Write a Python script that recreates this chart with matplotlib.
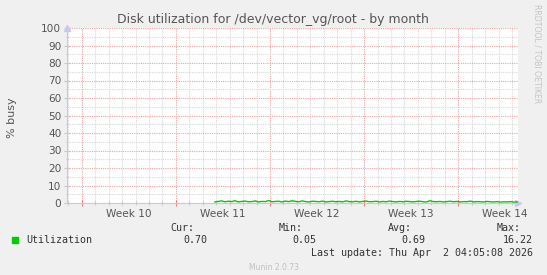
"""Munin disk utilization graph - by month."""
import numpy as np
import matplotlib.pyplot as plt
from matplotlib.ticker import MultipleLocator

# time axis in days from the start of week 10
week_starts = [0, 7, 14, 21, 28]
week_labels = ["Week 10", "Week 11", "Week 12", "Week 13", "Week 14"]
x_start, x_end = -1.1, 32.45

# utilization (% busy), 6 hour samples from day 9.9
util_start = 9.9
util_step = 0.25
util = [0.6, 0.9, 1.2, 0.7, 1.0, 0.8, 1.3, 0.6, 0.9, 1.1, 0.7, 0.8,
        1.2, 0.6, 0.9, 0.8, 1.4, 0.7, 0.9, 1.0, 0.6, 1.1, 0.8, 1.3,
        0.9, 0.7, 1.2, 0.8, 0.6, 1.0, 0.9, 0.7, 1.1, 0.6, 0.8, 1.0,
        0.7, 0.9, 0.6, 1.2, 0.8, 0.7, 1.0, 0.6, 0.9, 1.1, 0.7, 0.8,
        1.0, 0.6, 0.9, 0.7, 1.1, 0.8, 0.6, 0.9, 0.7, 1.0, 0.8, 0.6,
        0.9, 1.0, 0.7, 0.6, 1.3, 0.8, 0.7, 0.9, 0.6, 0.8, 1.0, 0.7,
        0.9, 0.6, 0.8, 0.7, 1.1, 0.6, 0.8, 0.7, 0.6, 0.9, 0.7, 0.6,
        0.8, 0.5, 0.7, 0.6, 0.8, 0.5, 0.6, 0.7, 0.6, 0.5]
util_t = util_start + util_step * np.arange(len(util))

stats_heads = ["Cur:", "Min:", "Avg:", "Max:"]
stats_vals = ["0.70", "0.05", "0.69", "16.22"]

W, H = 547, 275
fig = plt.figure(figsize=(W / 100, H / 100), dpi=100, facecolor="#f0f0f0")
ax = fig.add_axes([67 / W, (H - 203) / H, (518 - 67) / W, (203 - 28) / H])
ax.set_facecolor("white")

ax.set_xlim(x_start, x_end)
ax.set_ylim(0, 100)

# grid
ax.xaxis.set_major_locator(MultipleLocator(7))
ax.xaxis.set_minor_locator(MultipleLocator(1))
ax.yaxis.set_major_locator(MultipleLocator(10))
ax.yaxis.set_minor_locator(MultipleLocator(5))
ax.grid(which="minor", color="#d8d8d8", linestyle=(0, (1, 1)), linewidth=0.8)
ax.grid(which="major", color="#eba5a5", linestyle=(0, (1, 1)), linewidth=0.8)
ax.set_axisbelow(True)

ax.tick_params(axis="x", which="both", labelbottom=False, direction="inout")
ax.tick_params(axis="x", which="major", color="#e88080", length=4, width=0.8)
ax.tick_params(axis="x", which="minor", color="#c8c8c8", length=3, width=0.8)
ax.tick_params(axis="y", which="major", color="#c8c8c8", length=4, width=0.8,
               direction="inout", labelsize=7.6, labelcolor="#555555", pad=2)
ax.tick_params(axis="y", which="minor", color="#c8c8c8", length=2, width=0.8,
               direction="inout")

for ws, lab in zip(week_starts, week_labels):
    ax.text(ws + 3.5, -3.5, lab, ha="center", va="top", fontsize=7.6,
            color="#555555")

for side in ["top", "right"]:
    ax.spines[side].set_visible(False)
for side in ["left", "bottom"]:
    ax.spines[side].set_color("#c8c8e8")
    ax.spines[side].set_linewidth(0.8)

# axis arrows
ax.plot([1.0], [0], marker=">", color="#c8c8f0", markersize=5,
        transform=ax.transAxes, clip_on=False)
ax.plot([0], [1.0], marker="^", color="#c8c8f0", markersize=5,
        transform=ax.transAxes, clip_on=False)

ax.plot(util_t, util, color="#00cc00", linewidth=1.0)

fig.text(12 / W, 1 - 118 / H, "% busy", rotation=90, ha="center", va="center",
         fontsize=8, color="#555555")

fig.text(273 / W, 1 - 19 / H, "Disk utilization for /dev/vector_vg/root - by month",
         ha="center", va="center", fontsize=9, color="#555555")
fig.text(537 / W, 1 - 54 / H, "RRDTOOL / TOBI OETIKER", rotation=270,
         ha="center", va="center", fontsize=5.6, color="#c4c4c4")

# legend block
mono = "DejaVu Sans Mono"
fig.patches.append(plt.Rectangle((12 / W, 1 - 243 / H), 6 / W, 6 / H,
                                 transform=fig.transFigure, color="#00cc00"))
fig.text(26 / W, 1 - 240 / H, "Utilization", ha="left", va="center",
         fontsize=7.2, family=mono, color="#333333")
for hx, vx, head, val in zip([194, 303, 412, 521], [207, 316, 425, 533],
                             stats_heads, stats_vals):
    fig.text(hx / W, 1 - 228 / H, head, ha="right", va="center",
             fontsize=7.2, family=mono, color="#333333")
    fig.text(vx / W, 1 - 240 / H, val, ha="right", va="center",
             fontsize=7.2, family=mono, color="#333333")
fig.text(533 / W, 1 - 253 / H, "Last update: Thu Apr  2 04:05:08 2026",
         ha="right", va="center", fontsize=7.2, family=mono, color="#333333")
fig.text(274 / W, 1 - 267 / H, "Munin 2.0.73", ha="center", va="center",
         fontsize=5.5, color="#c0c0c0")

fig.savefig("out.png", dpi=100, facecolor=fig.get_facecolor())
